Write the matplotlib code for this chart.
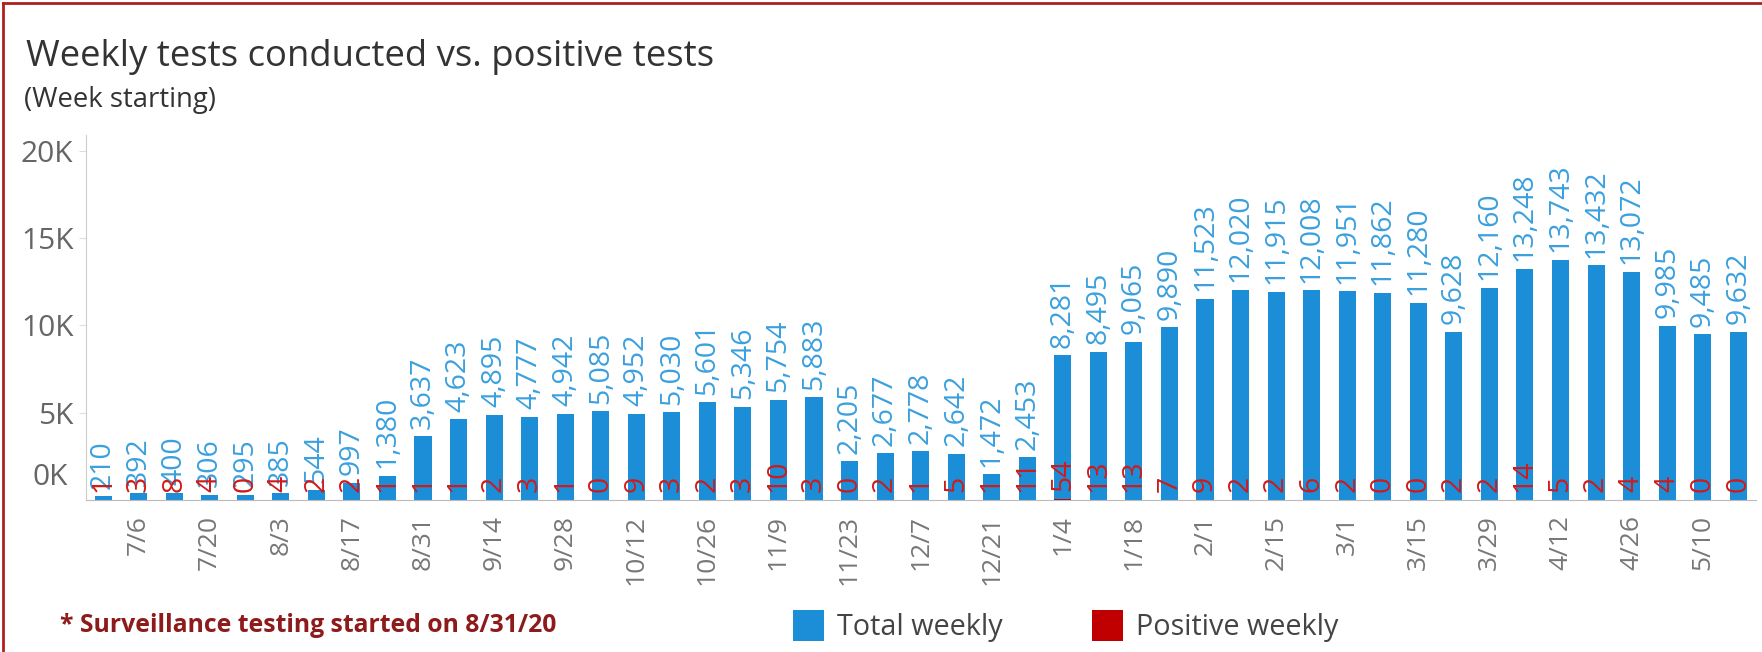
import numpy as np
import matplotlib.pyplot as plt
from matplotlib.lines import Line2D

# Semanas (inicio) y valores
weeks = ["6/29", "7/6", "7/13", "7/20", "7/27", "8/3", "8/10", "8/17", "8/24", "8/31",
         "9/7", "9/14", "9/21", "9/28", "10/5", "10/12", "10/19", "10/26", "11/2", "11/9",
         "11/16", "11/23", "11/30", "12/7", "12/14", "12/21", "12/28", "1/4", "1/11", "1/18",
         "1/25", "2/1", "2/8", "2/15", "2/22", "3/1", "3/8", "3/15", "3/22", "3/29",
         "4/5", "4/12", "4/19", "4/26", "5/3", "5/10", "5/17"]

total_weekly = [210, 392, 400, 306, 295, 385, 544, 997, 1380, 3637,
                4623, 4895, 4777, 4942, 5085, 4952, 5030, 5601, 5346, 5754,
                5883, 2205, 2677, 2778, 2642, 1472, 2453, 8281, 8495, 9065,
                9890, 11523, 12020, 11915, 12008, 11951, 11862, 11280, 9628, 12160,
                13248, 13743, 13432, 13072, 9985, 9485, 9632]

positive_weekly = [1, 3, 8, 4, 0, 4, 2, 2, 1, 1,
                   1, 2, 3, 1, 0, 9, 3, 2, 3, 10,
                   3, 0, 2, 1, 5, 1, 11, 54, 13, 13,
                   7, 9, 2, 2, 6, 2, 0, 0, 2, 2,
                   14, 5, 2, 4, 4, 0, 0]

yticks = [0, 5000, 10000, 15000, 20000]
ytick_labels = ["0K", "5K", "10K", "15K", "20K"]

blue = "#1b8ed7"
blue_txt = "#3aa0de"
red = "#c00000"
red_txt = "#d11a1a"
gris = "#777777"

plt.rcParams['font.family'] = ['Open Sans', 'DejaVu Sans']

fig = plt.figure(figsize=(17.62, 6.52), dpi=100)
ax = fig.add_axes([86/1762, 152/652, 1670/1762, 365/652])

x = np.arange(len(weeks))
b_tot = ax.bar(x, total_weekly, width=0.48, color=blue, label="Total weekly")
b_pos = ax.bar(x, positive_weekly, width=0.48, color=red, label="Positive weekly")

ax.bar_label(b_tot, labels=[f"{v:,}" for v in total_weekly], rotation=90,
             padding=5.5, color=blue_txt, fontsize=20.5)
ax.bar_label(b_pos, labels=[str(v) for v in positive_weekly], rotation=90,
             padding=5.5, color=red_txt, fontsize=20.5)

ax.set_xlim(-0.48, len(weeks) - 0.5)
ax.set_ylim(0, 20900)

ax.set_xticks(x[1::2], [weeks[i] for i in x[1::2]], rotation=90)
ax.tick_params(axis="x", length=0, pad=11, labelsize=19, labelcolor=gris)

ax.set_yticks(yticks[1:], ytick_labels[1:])
ax.tick_params(axis="y", length=5, pad=4, labelsize=21.5, labelcolor="#666666", color="#dddddd")
# la etiqueta 0K va algo por encima de la base, como en el original
ax.annotate(ytick_labels[0], xy=(0, yticks[0]), xycoords=("axes fraction", "data"),
            xytext=(-13, 16), textcoords="offset points", ha="right", va="center",
            fontsize=21.5, color="#666666")

for s in ["top", "right"]:
    ax.spines[s].set_visible(False)
ax.spines["left"].set_color("#cccccc")
ax.spines["bottom"].set_color("#bbbbbb")

# Títulos
fig.text(26/1762, 1 - 66/652, "Weekly tests conducted vs. positive tests",
         fontsize=26.3, color="#333333", va="baseline")
fig.text(24/1762, 1 - 107/652, "(Week starting)", fontsize=19.8, color="#333333", va="baseline")

# Nota y leyenda
fig.text(60/1762, 1 - 632/652, "* Surveillance testing started on 8/31/20",
         fontsize=17.8, fontweight="bold", color="#8e1b1b", va="baseline")

fig.legend(handles=[b_tot, b_pos], loc="center left", bbox_to_anchor=(793/1762, 1 - 626/652),
           ncol=2, frameon=False, handlelength=1.08, handleheight=1.3, handletextpad=0.45,
           columnspacing=3.1, borderaxespad=0, borderpad=0, fontsize=20.7,
           labelcolor="#444444")

# Marco rojo (arriba e izquierda)
fig.add_artist(Line2D([3/1762, 1], [1 - 3/652, 1 - 3/652], color="#b02020", lw=2))
fig.add_artist(Line2D([3/1762, 3/1762], [0, 1 - 3/652], color="#b02020", lw=2))

fig.savefig("out.png", dpi=100)
